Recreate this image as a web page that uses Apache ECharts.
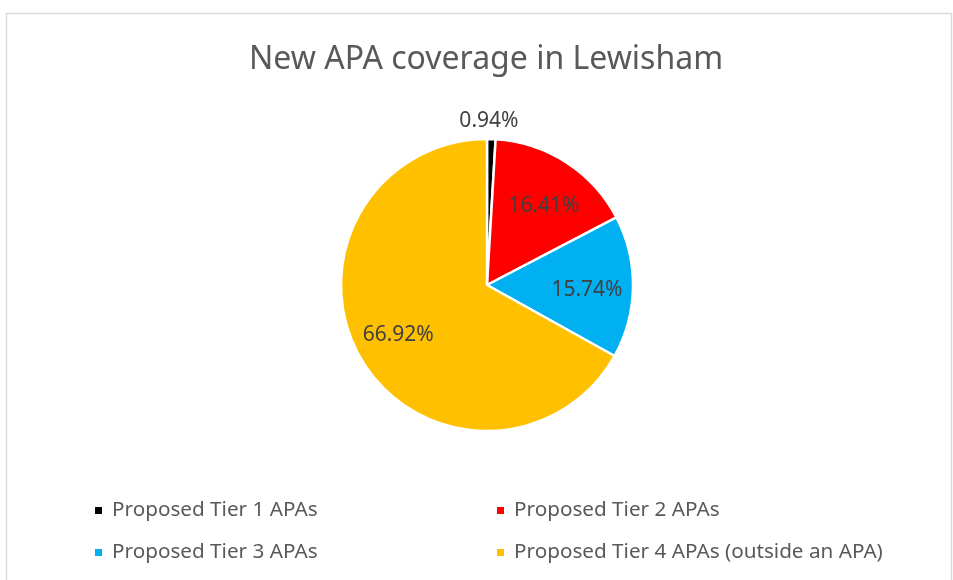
<!DOCTYPE html>
<html><head><meta charset="utf-8">
<script src="https://cdn.jsdelivr.net/npm/echarts@6/dist/echarts.min.js"></script>
<style>html,body{margin:0;padding:0;background:#fff}#c{width:953px;height:580px}</style>
</head><body><div id="c"></div>
<script>
const categories = ['Proposed Tier 1 APAs','Proposed Tier 2 APAs','Proposed Tier 3 APAs','Proposed Tier 4 APAs (outside an APA)'];
const values = [0.94, 16.41, 15.74, 66.92];
const colors = ['#000000','#FF0000','#00B0F0','#FFC000'];
const FONT = 'Noto Sans';
const chart = echarts.init(document.getElementById('c'));
const data = categories.map((n,i)=>({name:n, value:values[i], itemStyle:{color:colors[i]}}));
const center = [487, 285];
const labelOffsets = [[-3,3],[1,7],[-3,4],[0,-2]];
const labelFmt = p => p.value.toFixed(2) + '%';
chart.setOption({
  animation:false,
  textStyle:{fontFamily:FONT},
  graphic:[{type:'rect', shape:{x:6.5,y:13.5,width:945,height:620}, style:{fill:'none', stroke:'#d9d9d9', lineWidth:1.5}, silent:true}],
  title:{text:'New APA coverage in Lewisham', left:244, top:39, textStyle:{fontFamily:FONT, fontSize:32, fontWeight:'normal', color:'#595959'}},
  legend:[
    {data:[categories[0],categories[2]], orient:'vertical', left:88, top:495, itemGap:21, itemWidth:9, itemHeight:9, icon:'rect', textStyle:{fontFamily:FONT, fontSize:20.7, color:'#595959', padding:[0,0,0,4]}},
    {data:[categories[1],categories[3]], orient:'vertical', left:490, top:495, itemGap:21, itemWidth:9, itemHeight:9, icon:'rect', textStyle:{fontFamily:FONT, fontSize:20.7, color:'#595959', padding:[0,0,0,4]}}
  ],
  series:[
    {type:'pie', center:center, radius:[0,146], startAngle:90, clockwise:true, data:data,
     itemStyle:{borderColor:'#fff', borderWidth:2.5}, label:{show:false}, labelLine:{show:false}, emphasis:{disabled:true}},
    {type:'pie', center:center, radius:[54,146], startAngle:90, clockwise:true, silent:true,
     data:data.map((d,i)=>({name:d.name, value:d.value, itemStyle:{color:'transparent'}, label:{show:i>0, offset:labelOffsets[i]}})),
     label:{position:'inside', formatter:labelFmt, fontFamily:FONT, fontSize:21, color:'#404040'}, labelLine:{show:false}, emphasis:{disabled:true}, legendHoverLink:false},
    {type:'pie', center:center, radius:[146,182], startAngle:90, clockwise:true, silent:true,
     data:data.map((d,i)=>({name:d.name, value:d.value, itemStyle:{color:'transparent'}, label:{show:i===0, offset:labelOffsets[i]}})),
     label:{position:'inside', formatter:labelFmt, fontFamily:FONT, fontSize:21, color:'#404040'}, labelLine:{show:false}, emphasis:{disabled:true}, legendHoverLink:false}
  ]
});
</script></body></html>
